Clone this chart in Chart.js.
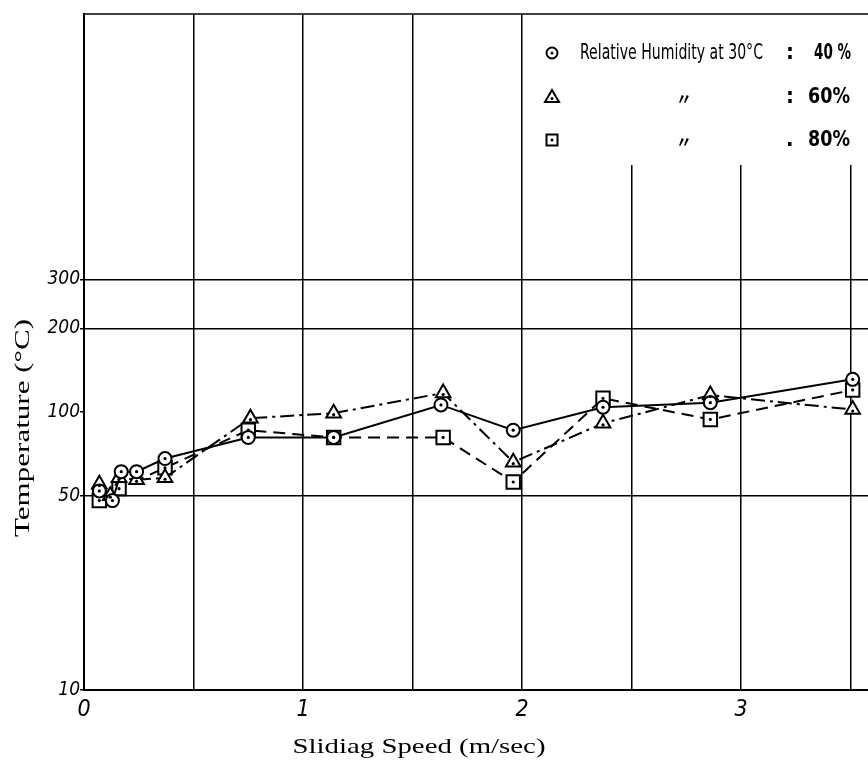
<!DOCTYPE html>
<html>
<head>
<meta charset="utf-8">
<script src="https://cdn.jsdelivr.net/npm/chart.js@4/dist/chart.umd.min.js"></script>
<style>
  body { margin: 0; background: #fff; }
  canvas { display: block; }
</style>
</head>
<body>
<canvas id="grafico" width="868" height="767"></canvas>
<script>
// velocidades (m/sec) y temperaturas (°C)
const speeds40 = [0.07, 0.13, 0.17, 0.24, 0.37, 0.75, 1.14, 1.63, 1.96, 2.37, 2.86, 3.51]
const temp40 = [52, 48, 61, 61, 68, 81, 81, 106, 86, 104, 108, 131]

const speeds60 = [0.07, 0.12, 0.16, 0.24, 0.37, 0.76, 1.14, 1.64, 1.96, 2.37, 2.86, 3.51]
const temp60 = [55, 50, 58, 57, 58, 95, 99, 117, 66, 91, 115, 102]

const speeds80 = [0.07, 0.16, 0.37, 0.75, 1.14, 1.64, 1.96, 2.37, 2.86, 3.51]
const temp80 = [48, 53, 63, 86, 81, 81, 56, 112, 94, 120]

const xGrid = [0, 0.5, 1, 1.5, 2, 2.5, 3, 3.5]
const xTickLabels = [0, 1, 2, 3]
const yTicks = [10, 50, 100, 200, 300]
const legendLabels = ['Relative Humidity at 30°C', '40 %', '60%', '80%']

const toPoints = (xs, ys) => xs.map((x, i) => ({ x: x, y: ys[i] }))

const fuenteTicks = "'Liberation Sans Narrow', 'DejaVu Sans Condensed', sans-serif"

// puntos con marca central
const centroPuntos = {
    id: 'centroPuntos',
    afterDatasetsDraw(chart) {
        const ctx = chart.ctx
        ctx.save()
        ctx.fillStyle = '#000'
        chart.data.datasets.forEach((ds, i) => {
            chart.getDatasetMeta(i).data.forEach((p) => {
                const dy = ds.pointStyle === 'triangle' ? 1.5 : 0
                ctx.beginPath()
                ctx.arc(p.x, p.y + dy, 1.6, 0, Math.PI * 2)
                ctx.fill()
            })
        })
        ctx.restore()
    }
}

// caja de leyenda, borde superior y titulos
const marco = {
    id: 'marco',
    beforeDatasetsDraw(chart) {
        const { ctx, chartArea, scales } = chart
        const x2 = scales.x.getPixelForValue(2)
        ctx.save()
        ctx.fillStyle = '#fff'
        ctx.fillRect(x2 + 1.5, chartArea.top - 1, chartArea.right - x2, 152)
        ctx.restore()
    },
    afterDraw(chart) {
        const { ctx, chartArea } = chart
        ctx.save()
        ctx.strokeStyle = '#000'
        ctx.lineWidth = 1.5
        ctx.beginPath()
        ctx.moveTo(chartArea.left, chartArea.top)
        ctx.lineTo(chartArea.right, chartArea.top)
        ctx.stroke()

        // leyenda
        const mx = 552
        const filas = [53, 97, 140]
        ctx.lineWidth = 2
        ctx.fillStyle = '#000'
        ctx.beginPath()
        ctx.arc(mx, filas[0], 5.5, 0, Math.PI * 2)
        ctx.stroke()
        ctx.beginPath()
        ctx.moveTo(mx, filas[1] - 7)
        ctx.lineTo(mx + 7, filas[1] + 5)
        ctx.lineTo(mx - 7, filas[1] + 5)
        ctx.closePath()
        ctx.stroke()
        ctx.strokeRect(mx - 5.5, filas[2] - 5.5, 11, 11)
        filas.forEach((fy, i) => {
            ctx.beginPath()
            ctx.arc(mx, fy + (i === 1 ? 1.5 : 0), 1.5, 0, Math.PI * 2)
            ctx.fill()
        })

        ctx.textBaseline = 'middle'
        ctx.font = "22px " + fuenteTicks
        ctx.fillText(legendLabels[0], 580, filas[0], 183)
        ctx.font = "bold 22px " + fuenteTicks
        ctx.fillText(':', 786, filas[0])
        ctx.fillText(legendLabels[1], 814, filas[0], 37)
        ctx.fillText(':', 786, filas[1])
        ctx.fillText(legendLabels[2], 808, filas[1], 42)
        ctx.fillText('.', 786, filas[2])
        ctx.fillText(legendLabels[3], 808, filas[2], 42)
        ctx.font = "bold 16px 'Noto Sans CJK JP', sans-serif"
        ctx.fillText('〃', 676, filas[1] + 2)
        ctx.fillText('〃', 676, filas[2] + 2)

        // titulos de ejes
        ctx.font = "22px 'Liberation Serif', 'DejaVu Serif', serif"
        ctx.textAlign = 'center'
        const tx = 'Slidiag Speed (m/sec)'
        const wx = ctx.measureText(tx).width
        ctx.save()
        ctx.translate(419, 747)
        ctx.scale(253 / wx, 1)
        ctx.fillText(tx, 0, 0)
        ctx.restore()

        const ty = 'Temperature (°C)'
        const wy = ctx.measureText(ty).width
        ctx.save()
        ctx.translate(23, 428)
        ctx.rotate(-Math.PI / 2)
        ctx.scale(218 / wy, 1)
        ctx.fillText(ty, 0, 0)
        ctx.restore()
        ctx.restore()
    }
}

const grafico = new Chart(document.querySelector('#grafico'), {
    type: 'line',
    data: {
        datasets: [
            {
                label: '40 %',
                data: toPoints(speeds40, temp40),
                borderColor: '#000',
                borderWidth: 2,
                pointStyle: 'circle',
                pointRadius: 6.5,
                pointBorderWidth: 2,
                pointBackgroundColor: '#fff',
                pointBorderColor: '#000',
                tension: 0
            },
            {
                label: '60%',
                data: toPoints(speeds60, temp60),
                borderColor: '#000',
                borderWidth: 2,
                borderDash: [14, 5, 3, 5],
                pointStyle: 'triangle',
                pointRadius: 8.5,
                pointBorderWidth: 2,
                pointBackgroundColor: '#fff',
                pointBorderColor: '#000',
                tension: 0
            },
            {
                label: '80%',
                data: toPoints(speeds80, temp80),
                borderColor: '#000',
                borderWidth: 2,
                borderDash: [12, 7],
                pointStyle: 'rect',
                pointRadius: 9.5,
                pointBorderWidth: 2,
                pointBackgroundColor: '#fff',
                pointBorderColor: '#000',
                tension: 0
            }
        ]
    },
    options: {
        responsive: false,
        animation: false,
        devicePixelRatio: 1,
        layout: { autoPadding: false, padding: { top: 14, right: 0, left: 0, bottom: 0 } },
        plugins: {
            legend: { display: false },
            tooltip: { enabled: false }
        },
        scales: {
            x: {
                type: 'linear',
                min: 0,
                max: 3.58,
                offset: false,
                afterBuildTicks(scale) {
                    scale.ticks = xGrid.map(v => ({ value: v }))
                },
                afterFit(scale) {
                    scale.height = 77
                    scale.paddingLeft = 0
                    scale.paddingRight = 0
                },
                ticks: {
                    padding: 6,
                    color: '#000',
                    font: { family: fuenteTicks, size: 23, style: 'italic' },
                    maxRotation: 0,
                    autoSkip: false,
                    callback: (v) => xTickLabels.includes(v) ? String(v) : ''
                },
                grid: { color: '#000', lineWidth: 1.5, drawTicks: false },
                border: { display: true, color: '#000', width: 2 }
            },
            y: {
                type: 'logarithmic',
                min: 10,
                max: 2700,
                afterBuildTicks(scale) {
                    scale.ticks = yTicks.map(v => ({ value: v }))
                },
                afterFit(scale) { scale.width = 84 },
                ticks: {
                    padding: 0,
                    color: '#000',
                    font: { family: fuenteTicks, size: 19, style: 'italic' },
                    autoSkip: false,
                    callback: (v) => String(v)
                },
                grid: {
                    color: (c) => c.tick && c.tick.value === 100 ? 'rgba(0,0,0,0)' : '#000',
                    tickColor: '#000',
                    lineWidth: 1.5,
                    tickLength: 4
                },
                border: { display: true, color: '#000', width: 2 }
            }
        }
    },
    plugins: [centroPuntos, marco]
})
</script>
</body>
</html>
